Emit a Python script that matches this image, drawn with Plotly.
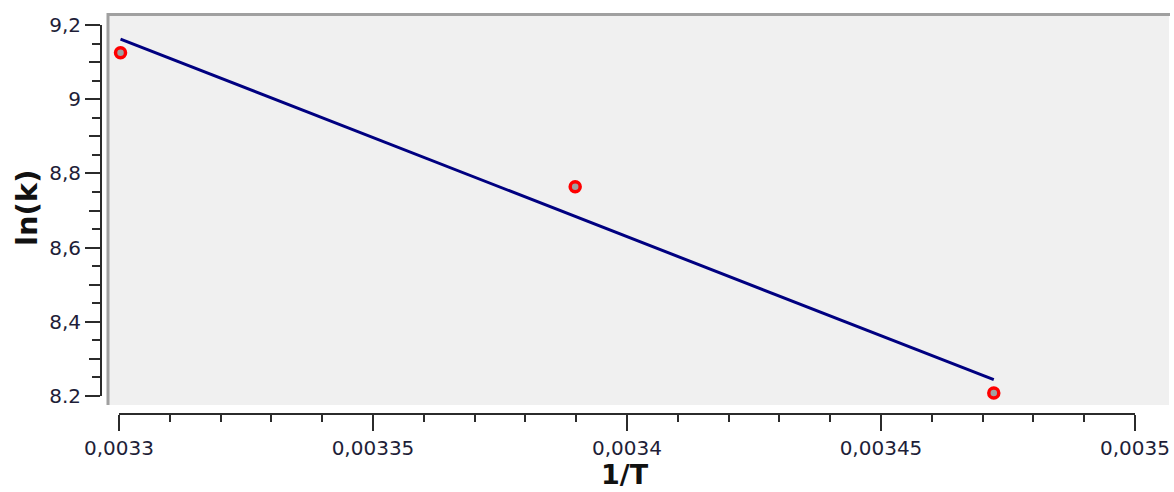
import plotly.graph_objects as go

# Data
inv_T = [0.0033003, 0.0033898, 0.0034722]
ln_k = [9.125, 8.764, 8.208]
fit_x = [0.0033003, 0.0034722]
fit_y = [9.162, 8.244]

x_tickvals = [0.0033, 0.00335, 0.0034, 0.00345, 0.0035]
x_ticktext = ["0,0033", "0,00335", "0,0034", "0,00345", "0,0035"]
y_tickvals = [8.2, 8.4, 8.6, 8.8, 9.0, 9.2]
y_ticktext = ["8.2", "8,4", "8,6", "8,8", "9", "9,2"]
y_mid_ticks = [8.3, 8.5, 8.7, 8.9, 9.1]

W, H = 1174, 492
# pixel geometry
L, R = 101, 1135     # paper x: 0 -> y-axis line, 1 -> x-axis end
T, B = 25, 414       # paper y: 1 -> top of y-range, 0 -> x-axis line
pw, ph = R - L, B - T

def px(x):
    return (x - L) / pw

def py(y):
    return (B - y) / ph

axis_col = "#2b2b2b"
lab_font = dict(family="DejaVu Sans", size=19, color="#1e1e38")

fig = go.Figure()
fig.add_trace(go.Scatter(x=fit_x, y=fit_y, mode="lines",
                         line=dict(color="#000080", width=3),
                         showlegend=False, hoverinfo="skip"))
fig.add_trace(go.Scatter(x=inv_T, y=ln_k, mode="markers",
                         marker=dict(symbol="circle", size=10, color="#a0a0a0",
                                     line=dict(color="#ff0000", width=3.5)),
                         showlegend=False, cliponaxis=False))
# invisible trace to activate the secondary y axis
fig.add_trace(go.Scatter(x=[fit_x[0]], y=[fit_y[0]], yaxis="y2", mode="markers",
                         marker=dict(opacity=0), showlegend=False, hoverinfo="skip"))

fig.update_layout(
    width=W, height=H,
    margin=dict(l=L, r=W - R, t=T, b=H - B, autoexpand=False),
    paper_bgcolor="white",
    plot_bgcolor="rgba(0,0,0,0)",
    xaxis=dict(
        domain=[px(119), 1], range=[0.0033, 0.0035],
        anchor="free", position=0, automargin=False,
        showgrid=False, zeroline=False,
        showline=True, linecolor=axis_col, linewidth=2,
        ticks="outside", ticklen=16, tickwidth=2, tickcolor=axis_col,
        tickvals=x_tickvals, ticktext=x_ticktext, tickfont=dict(lab_font, size=20),
        minor=dict(dtick=0.00001, ticks="outside", ticklen=7, tickwidth=2,
                   tickcolor=axis_col, showgrid=False),
    ),
    yaxis=dict(
        domain=[py(396), 1], range=[8.2, 9.2],
        anchor="free", position=0, automargin=False,
        showgrid=False, zeroline=False,
        showline=True, linecolor=axis_col, linewidth=2,
        ticks="outside", ticklen=15, tickwidth=2, tickcolor=axis_col,
        tickvals=y_tickvals, ticktext=y_ticktext, tickfont=dict(lab_font, size=20),
        minor=dict(dtick=0.05, ticks="outside", ticklen=8, tickwidth=2,
                   tickcolor=axis_col, showgrid=False),
    ),
    yaxis2=dict(
        domain=[py(396), 1], range=[8.2, 9.2], overlaying="y",
        anchor="free", position=0, side="left", automargin=False,
        showgrid=False, zeroline=False, showline=False,
        ticks="outside", ticklen=12, tickwidth=2, tickcolor=axis_col,
        tickvals=y_mid_ticks, showticklabels=False,
    ),
    shapes=[
        dict(type="rect", xref="paper", yref="paper", layer="below",
             x0=px(108), x1=px(1169), y0=py(405), y1=py(14),
             fillcolor="#f0f0f0", line=dict(width=0)),
        dict(type="line", xref="paper", yref="paper", layer="below",
             x0=px(108), x1=px(108), y0=py(405), y1=py(13),
             line=dict(color="#a0a0a0", width=3)),
        dict(type="line", xref="paper", yref="paper", layer="below",
             x0=px(107), x1=px(1170), y0=py(14.5), y1=py(14.5),
             line=dict(color="#a0a0a0", width=3)),
    ],
    annotations=[
        dict(text="<b>1/T</b>", xref="paper", yref="paper", x=px(625), y=py(474),
             showarrow=False, font=dict(family="DejaVu Sans", size=27, color="#111"),
             xanchor="center", yanchor="middle"),
        dict(text="<b>ln(k)</b>", xref="paper", yref="paper", x=px(27), y=py(208),
             showarrow=False, textangle=-90,
             font=dict(family="DejaVu Sans", size=29, color="#111"),
             xanchor="center", yanchor="middle"),
    ],
)

fig.write_html(
    "out.html",
    config={"displayModeBar": False},
    post_script="document.body.style.margin='0';document.body.style.overflow='hidden';",
)
